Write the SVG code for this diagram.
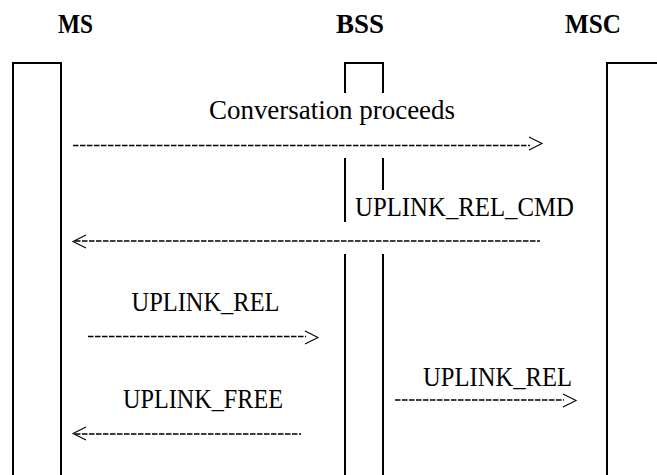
<svg xmlns="http://www.w3.org/2000/svg" width="657" height="475" viewBox="0 0 657 475">
<style>
.title{font-family:"Liberation Serif","Times New Roman",serif;font-weight:bold;font-size:27px;fill:#000}
.lbl{font-family:"Liberation Serif","Times New Roman",serif;font-size:27px;fill:#000}
.box{fill:none;stroke:#000;stroke-width:2}
.dash{fill:none;stroke:#000;stroke-width:1.3;stroke-dasharray:5.5 1.5}
.head{fill:none;stroke:#000;stroke-width:1.1}
</style>
<rect width="657" height="475" fill="#fff"/>
<g id="node-ms">
<text class="title" x="58" y="32.5" textLength="35" lengthAdjust="spacingAndGlyphs">MS</text>
<path class="box" d="M13,476 V63 H61 V476"/>
</g>
<g id="node-bss">
<text class="title" x="336" y="32.5" textLength="48" lengthAdjust="spacingAndGlyphs">BSS</text>
<path class="box" d="M345,93 V63 H383 V93"/>
<path class="box" d="M345,158 V222 M383,158 V190"/>
<path class="box" d="M345,254 V476 M383,254 V476"/>
</g>
<g id="node-msc">
<text class="title" x="565" y="32.5" textLength="56" lengthAdjust="spacingAndGlyphs">MSC</text>
<path class="box" d="M607,476 V63 H660"/>
</g>
<g id="labels">
<text class="lbl" x="209" y="119" textLength="246">Conversation proceeds</text>
<text class="lbl" x="355" y="216" textLength="219" lengthAdjust="spacingAndGlyphs">UPLINK_REL_CMD</text>
<text class="lbl" x="131.5" y="311" textLength="148" lengthAdjust="spacingAndGlyphs">UPLINK_REL</text>
<text class="lbl" x="123" y="407.5" textLength="160" lengthAdjust="spacingAndGlyphs">UPLINK_FREE</text>
<text class="lbl" x="423" y="386" textLength="149" lengthAdjust="spacingAndGlyphs">UPLINK_REL</text>
</g>
<g id="connectors">
<line class="dash" x1="73" y1="145.5" x2="530" y2="145.5"/>
<polyline class="head" points="529,137 542,143.5 529,150"/>
<line class="dash" x1="75" y1="241" x2="540" y2="241"/>
<polyline class="head" points="86,235 73,241.5 86,248"/>
<line class="dash" x1="88" y1="336.5" x2="306" y2="336.5"/>
<polyline class="head" points="305,331 318,337.5 305,344"/>
<line class="dash" x1="75" y1="434" x2="301" y2="434"/>
<polyline class="head" points="86,427 73,433.5 86,440"/>
<line class="dash" x1="395" y1="400" x2="564" y2="400"/>
<polyline class="head" points="563,394 576,400.5 563,407"/>
</g>
</svg>
